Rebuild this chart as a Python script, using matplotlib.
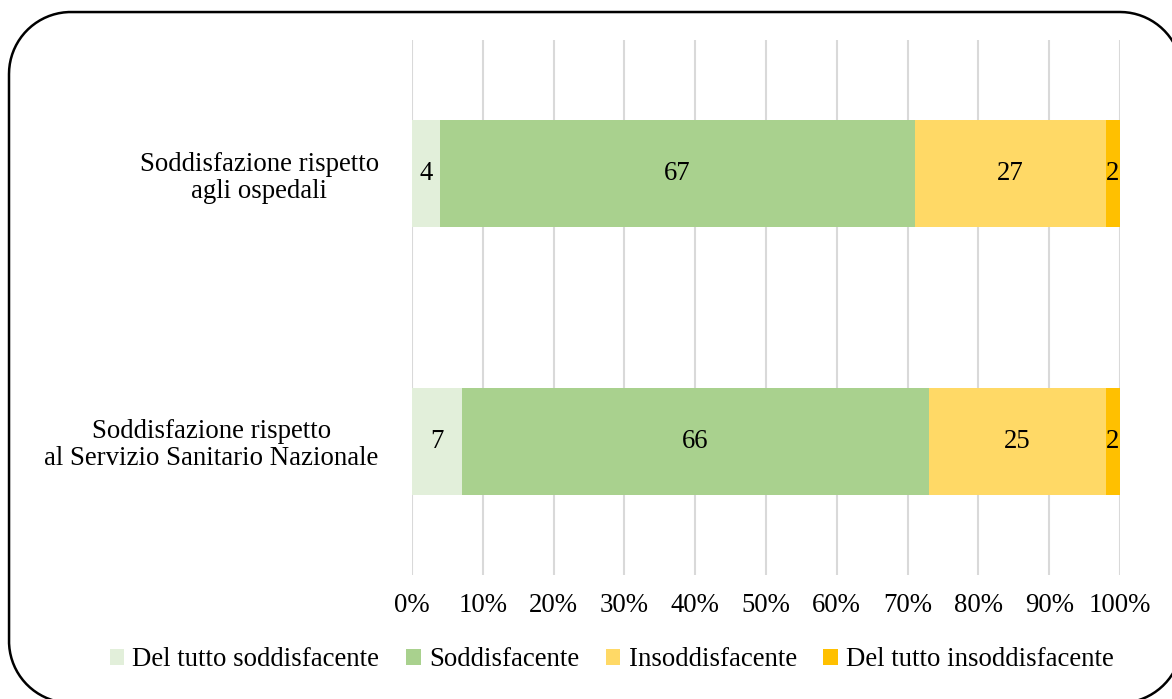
import numpy as np
import matplotlib.pyplot as plt
from matplotlib.lines import Line2D

plt.rcParams['font.family'] = ['Liberation Serif', 'DejaVu Serif']

categorie = ['Soddisfazione rispetto\nal Servizio Sanitario Nazionale',
             'Soddisfazione rispetto\nagli ospedali']
serie = ['Del tutto soddisfacente', 'Soddisfacente', 'Insoddisfacente',
         'Del tutto insoddisfacente']
valori = {
    'Del tutto soddisfacente': [7, 4],
    'Soddisfacente': [66, 67],
    'Insoddisfacente': [25, 27],
    'Del tutto insoddisfacente': [2, 2],
}
colori = ['#E2EFDA', '#A9D18E', '#FFD966', '#FFC000']
tacche = np.arange(0, 101, 10)
fs = 19.3

fig = plt.figure(figsize=(11.72, 6.99), dpi=100)
ax = fig.add_axes([412 / 1172, 1 - 575 / 699, 708 / 1172, 535 / 699])

y = np.arange(len(categorie))
sinistra = np.zeros(len(categorie))
for nome, colore in zip(serie, colori):
    v = np.array(valori[nome], dtype=float)
    barre = ax.barh(y, v, left=sinistra, height=0.4, color=colore,
                    label=nome, zorder=3)
    ax.bar_label(barre, labels=[str(int(x)) for x in v], label_type='center',
                 fontsize=fs, color='black')
    sinistra += v

ax.set_xlim(0, 100)
ax.set_ylim(-0.5, 1.5)
ax.set_xticks(tacche)
ax.set_xticklabels([f'{t}%' for t in tacche], fontsize=fs)
ax.set_yticks(y)
ax.set_yticklabels(categorie, fontsize=fs, multialignment='center',
                   linespacing=1.1)
ax.tick_params(axis='both', length=0)
ax.tick_params(axis='x', pad=13)
ax.tick_params(axis='y', pad=24)
ax.grid(axis='x', color='#D9D9D9', linewidth=1.5, zorder=0)
for lato in ax.spines.values():
    lato.set_visible(False)

fig.legend(loc='center', bbox_to_anchor=(0.522, 1 - 660 / 699), ncol=4,
           frameon=False, fontsize=fs, handlelength=0.55, handleheight=0.55,
           handletextpad=0.3, columnspacing=1.0)

# cornice arrotondata (in pollici), costruita come polilinea
x0, x1, y0, y1, r = 0.09, 11.82, -0.04, 6.87, 0.62
t = np.linspace(0, np.pi / 2, 40)
px = np.concatenate([x1 - r + r * np.cos(t), x0 + r - r * np.sin(t),
                     x0 + r - r * np.cos(t), x1 - r + r * np.sin(t)])
py = np.concatenate([y1 - r + r * np.sin(t), y1 - r + r * np.cos(t),
                     y0 + r - r * np.sin(t), y0 + r - r * np.cos(t)])
px = np.append(px, px[0])
py = np.append(py, py[0])
fig.add_artist(Line2D(px, py, transform=fig.dpi_scale_trans, color='black',
                      linewidth=1.8, solid_joinstyle='round'))

fig.savefig('out.png', dpi=100)
